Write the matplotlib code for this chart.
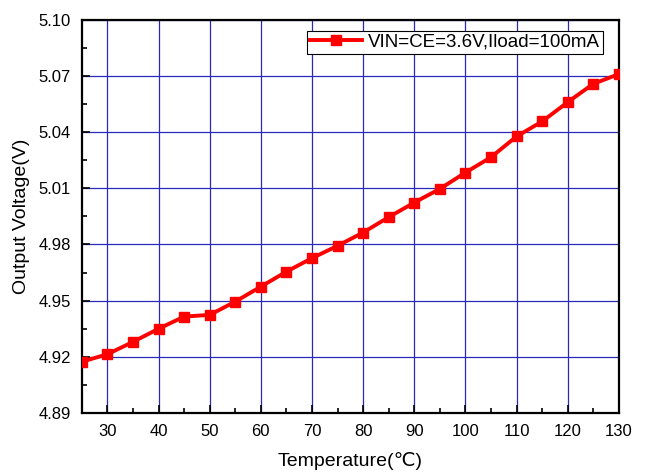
import matplotlib
matplotlib.use("Agg")
import matplotlib.pyplot as plt
from matplotlib.ticker import MultipleLocator

# temperature sweep and measured output voltage
temperature = [25, 30, 35, 40, 45, 50, 55, 60, 65, 70, 75, 80,
               85, 90, 95, 100, 105, 110, 115, 120, 125, 130]
vout = [4.9174, 4.9214, 4.928, 4.935, 4.9415, 4.9424, 4.9495, 4.9575,
        4.9655, 4.9727, 4.9793, 4.9864, 4.9946, 5.0024, 5.0097, 5.0184,
        5.0266, 5.0377, 5.0457, 5.056, 5.0658, 5.071]
series_label = "VIN=CE=3.6V,Iload=100mA"

plt.rcParams['font.family'] = ['Liberation Sans', 'DejaVu Sans']

fig = plt.figure(figsize=(6.5, 4.72), dpi=100)
ax = fig.add_axes([0.126, 0.125, 0.826, 0.833])

ax.plot(temperature, vout, color='#ff0000', lw=2.8, marker='s', ms=7,
        label=series_label, zorder=3)

ax.set_xlim(25, 130)
ax.set_ylim(4.89, 5.10)
ax.xaxis.set_minor_locator(MultipleLocator(5))
ax.yaxis.set_minor_locator(MultipleLocator(0.015))
ax.set_yticks([4.89, 4.92, 4.95, 4.98, 5.01, 5.04, 5.07, 5.10])
ax.set_yticklabels(['%.2f' % v for v in ax.get_yticks()])
ax.set_xticks(range(30, 131, 10))

ax.grid(True, which='major', color='#2a2ab8', lw=0.9)
ax.tick_params(which='both', direction='in', labelsize=12, pad=8)
ax.tick_params(which='major', length=6, width=1.2)
ax.tick_params(which='minor', length=3.5, width=1.2)
for s in ax.spines.values():
    s.set_linewidth(1.6)

ax.set_xlabel('Temperature(℃)', fontsize=14, labelpad=9)
ax.set_ylabel('Output Voltage(V)', fontsize=14, labelpad=6)

leg = ax.legend(loc='upper right', bbox_to_anchor=(0.97, 0.972), numpoints=1,
                fontsize=13.5, fancybox=False, framealpha=1, edgecolor='black',
                handlelength=2.8, borderpad=0.15, borderaxespad=0,
                handletextpad=0.3)
leg.get_frame().set_linewidth(0.8)

fig.savefig('out.png', dpi=100)
